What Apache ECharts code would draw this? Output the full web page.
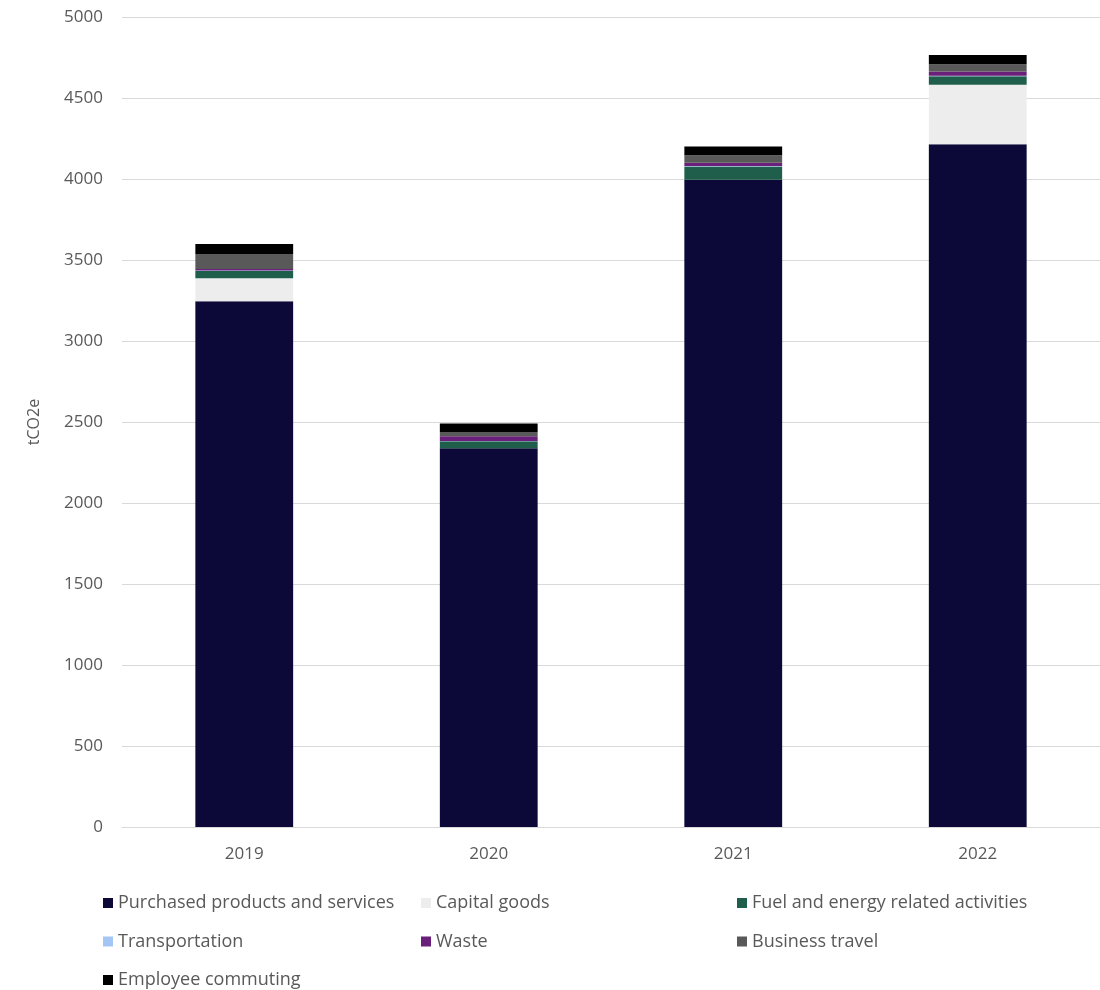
<!DOCTYPE html>
<html>
<head>
<meta charset="utf-8">
<script src="https://cdn.jsdelivr.net/npm/echarts@6/dist/echarts.min.js"></script>
<style>
  html, body { margin: 0; padding: 0; background: #fff; }
  #chart { width: 1100px; height: 990px; }
</style>
</head>
<body>
<div id="chart"></div>
<script>
// values (tCO2e)
const years = ['2019', '2020', '2021', '2022'];
const purchased = [3245, 2338, 3995, 4214];
const capitalGoods = [142, 0, 0, 368];
const fuelEnergy = [45, 43, 82, 53];
const transportation = [3, 2, 3, 3];
const waste = [10, 29, 21, 25];
const businessTravel = [92, 27, 45, 46];
const commuting = [62, 51, 54, 56];

const names = [
  'Purchased products and services', 'Capital goods', 'Fuel and energy related activities',
  'Transportation', 'Waste', 'Business travel', 'Employee commuting'
];
const colors = ['#0c0939', '#ededed', '#1f5e4b', '#a4c6f5', '#6a1f7a', '#595959', '#000000'];
const values = [purchased, capitalGoods, fuelEnergy, transportation, waste, businessTravel, commuting];

const font = '"Open Sans", "Liberation Sans", sans-serif';
const chart = echarts.init(document.getElementById('chart'));

function legendBlock(left, data) {
  return {
    orient: 'vertical',
    left: left,
    top: 891,
    height: 130,
    padding: 0,
    itemWidth: 10,
    itemHeight: 10,
    itemGap: 14.5,
    icon: 'rect',
    data: data,
    textStyle: { color: '#595959', fontSize: 18, fontFamily: font, lineHeight: 24 }
  };
}

chart.setOption({
  animation: false,
  color: colors,
  grid: { left: 122, right: -2, top: 17, bottom: 163 },
  legend: [
    legendBlock(103, [names[0], names[3], names[6]]),
    legendBlock(421, [names[1], names[4]]),
    legendBlock(737, [names[2], names[5]])
  ],
  xAxis: {
    type: 'category',
    data: years,
    axisLine: { lineStyle: { color: '#d9d9d9' } },
    axisTick: { show: false },
    axisLabel: { color: '#595959', fontSize: 17, fontFamily: font, margin: 19 }
  },
  yAxis: {
    type: 'value',
    min: 0,
    max: 5000,
    interval: 500,
    name: 'tCO2e',
    nameLocation: 'middle',
    nameGap: 80,
    nameRotate: 90,
    nameTextStyle: { color: '#595959', fontSize: 16, fontFamily: font },
    axisLine: { show: false },
    axisTick: { show: false },
    axisLabel: { color: '#595959', fontSize: 17, fontFamily: font, margin: 19, formatter: v => String(v) },
    splitLine: { lineStyle: { color: '#d9d9d9', width: 1 } }
  },
  series: names.map((n, i) => ({
    name: n,
    type: 'bar',
    stack: 'total',
    barWidth: '40%',
    data: values[i],
    itemStyle: { color: colors[i] }
  }))
});
</script>
</body>
</html>
